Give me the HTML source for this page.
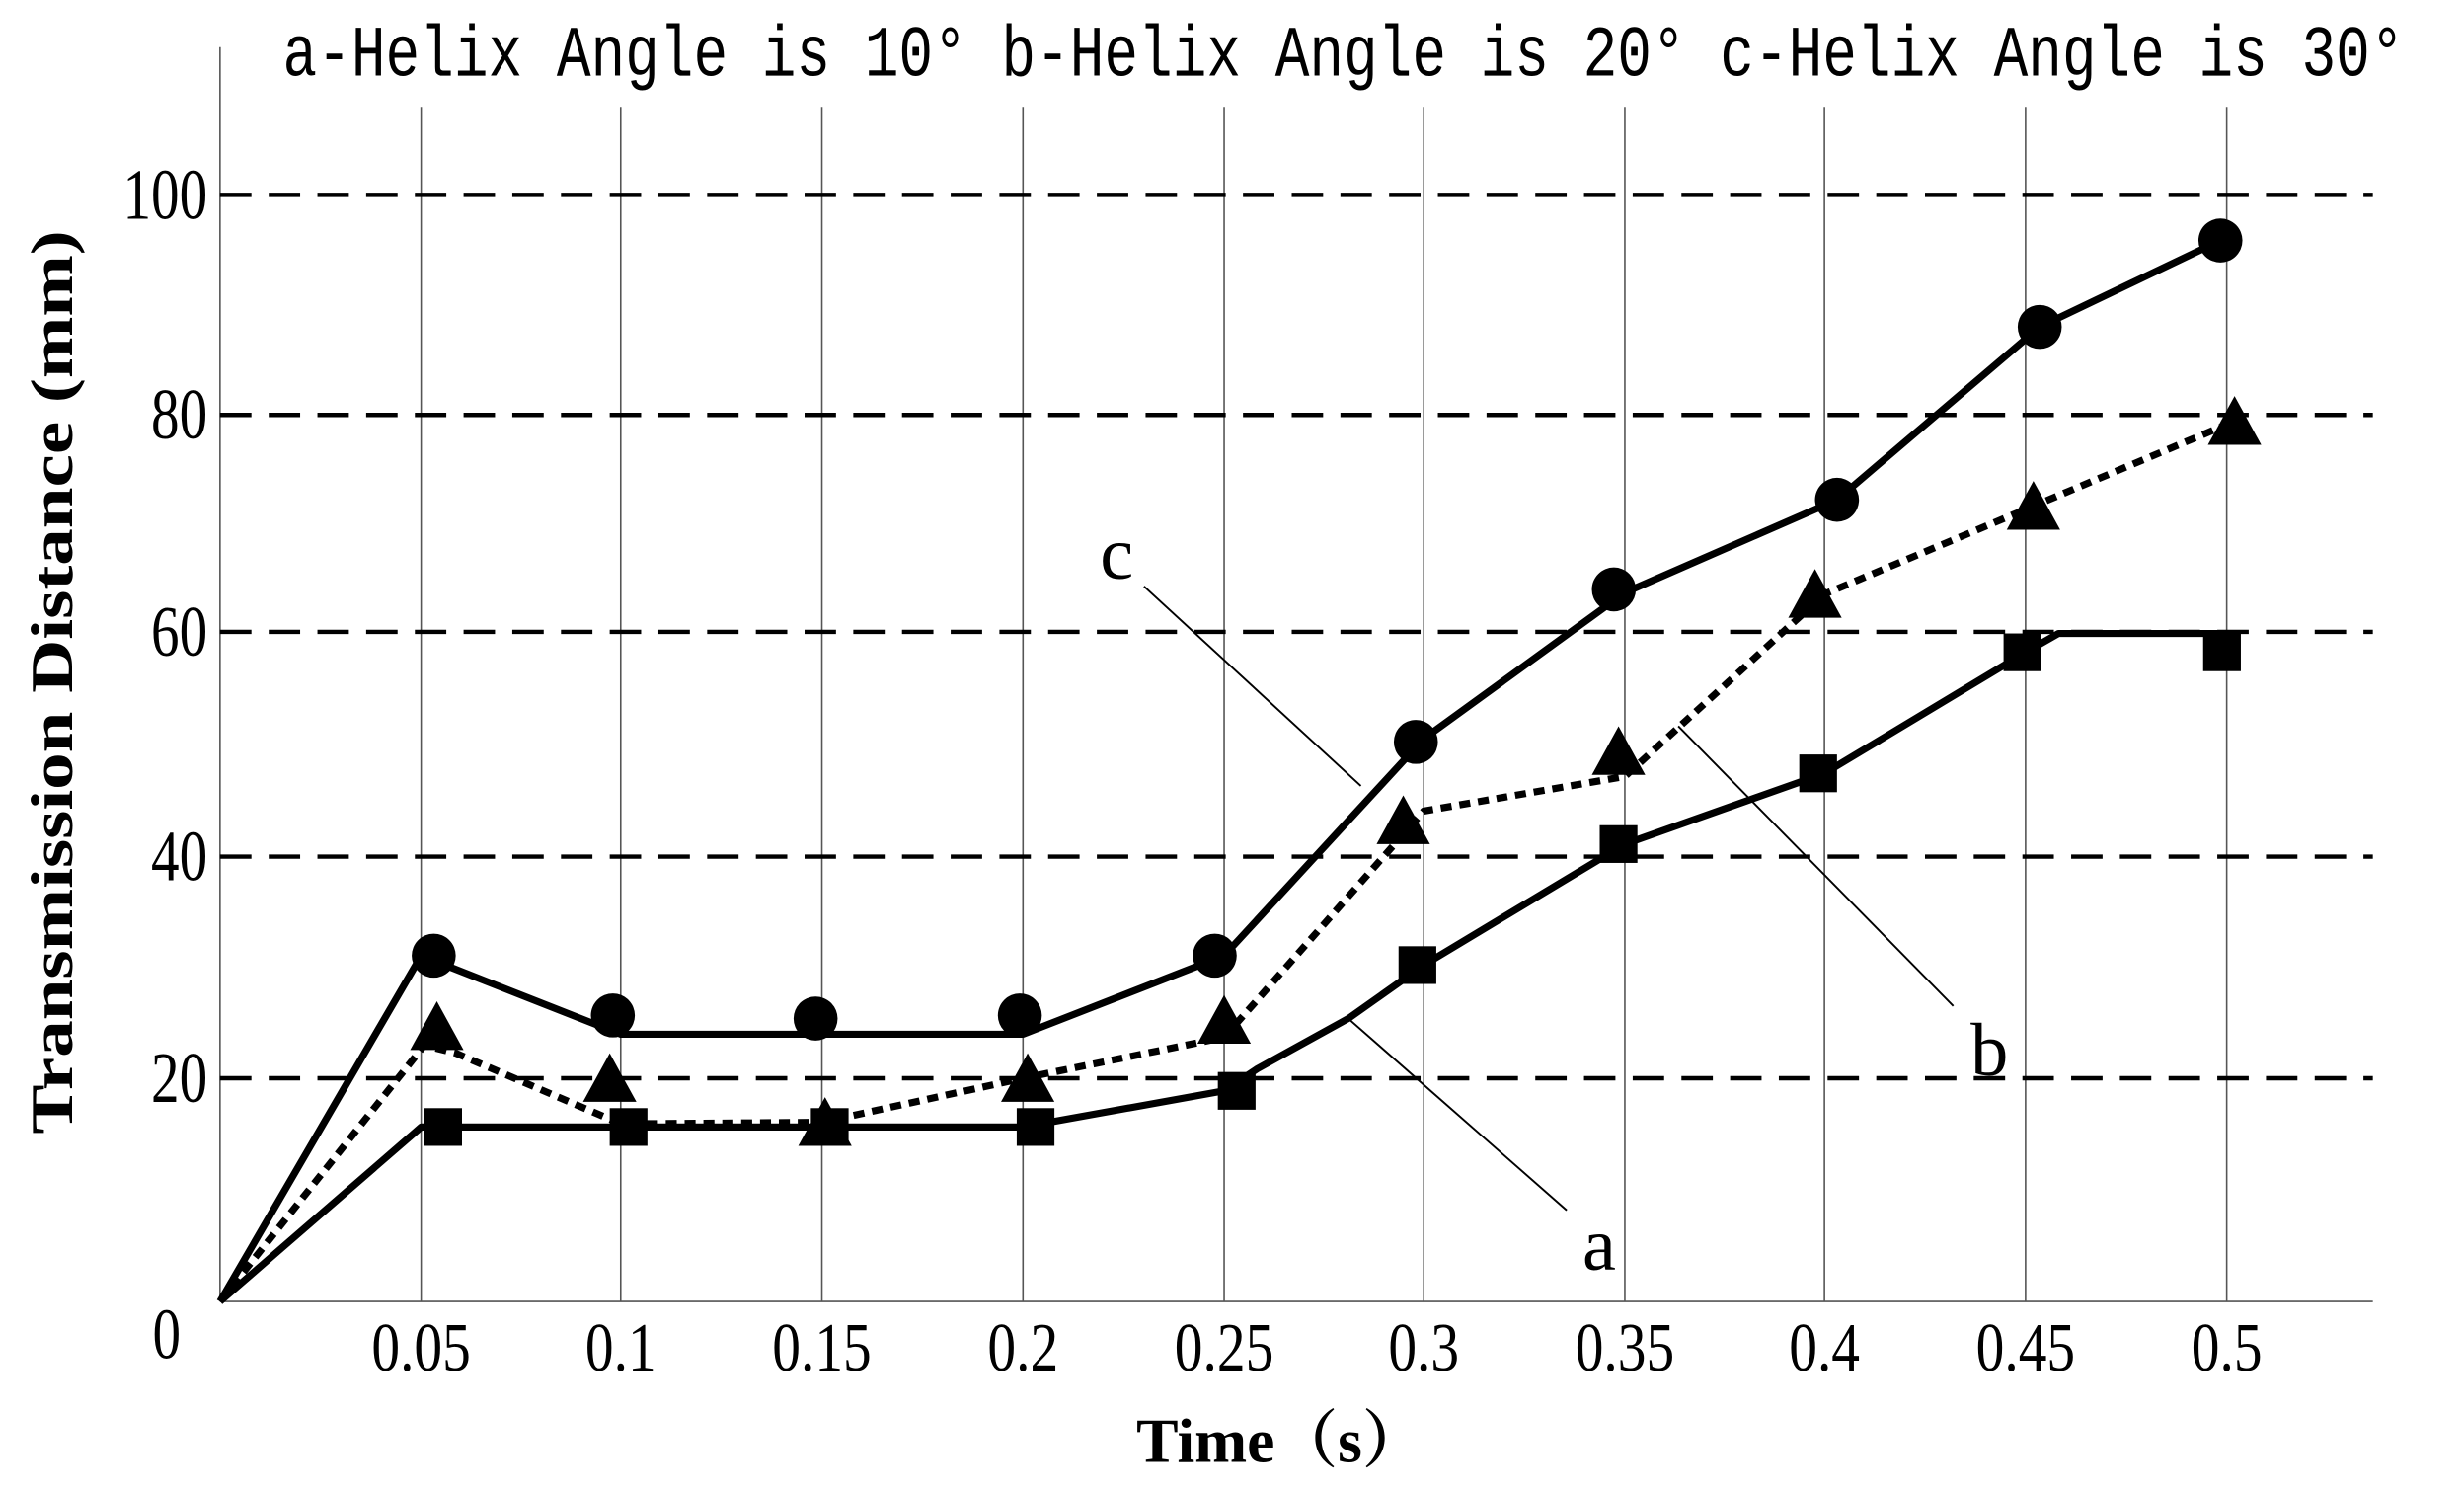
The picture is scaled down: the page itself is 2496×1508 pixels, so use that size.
<!DOCTYPE html>
<html><head><meta charset="utf-8"><style>html,body{margin:0;padding:0;background:#fff}svg{display:block}</style></head><body>
<svg width="2496" height="1508" viewBox="0 0 1568 947.3" preserveAspectRatio="none" xmlns="http://www.w3.org/2000/svg">
<rect width="1568" height="948" fill="#fff"/>
<g stroke="#555" stroke-width="1">
<line x1="140" y1="30" x2="140" y2="828"/>
<line x1="268" y1="68" x2="268" y2="828"/>
<line x1="395" y1="68" x2="395" y2="828"/>
<line x1="523" y1="68" x2="523" y2="828"/>
<line x1="651" y1="68" x2="651" y2="828"/>
<line x1="779" y1="68" x2="779" y2="828"/>
<line x1="906" y1="68" x2="906" y2="828"/>
<line x1="1034" y1="68" x2="1034" y2="828"/>
<line x1="1161" y1="68" x2="1161" y2="828"/>
<line x1="1289" y1="68" x2="1289" y2="828"/>
<line x1="1417" y1="68" x2="1417" y2="828"/>
<line x1="140" y1="828" x2="1510" y2="828"/>
</g>
<g stroke="#000" stroke-width="2.8" stroke-dasharray="20,11">
<line x1="140" y1="124" x2="1510" y2="124"/>
<line x1="140" y1="264" x2="1510" y2="264"/>
<line x1="140" y1="402" x2="1510" y2="402"/>
<line x1="140" y1="545" x2="1510" y2="545"/>
<line x1="140" y1="686" x2="1510" y2="686"/>
</g>
<text x="180" y="48" font-family="Liberation Mono, monospace" font-size="46" textLength="1350" lengthAdjust="spacingAndGlyphs">a-Helix Angle is 10°  b-Helix Angle is 20°  c-Helix Angle is 30°</text>
<g font-family="Liberation Serif, serif" font-size="46" text-anchor="end">
<text transform="translate(132,139) scale(0.78,1)">100</text>
<text transform="translate(132,279) scale(0.78,1)">80</text>
<text transform="translate(132,417) scale(0.78,1)">60</text>
<text transform="translate(132,560) scale(0.78,1)">40</text>
<text transform="translate(132,701) scale(0.78,1)">20</text>
<text transform="translate(115,864) scale(0.78,1)">0</text>
</g>
<g font-family="Liberation Serif, serif" font-size="44" text-anchor="middle">
<text transform="translate(268,872) scale(0.82,1)">0.05</text>
<text transform="translate(395,872) scale(0.82,1)">0.1</text>
<text transform="translate(523,872) scale(0.82,1)">0.15</text>
<text transform="translate(651,872) scale(0.82,1)">0.2</text>
<text transform="translate(779,872) scale(0.82,1)">0.25</text>
<text transform="translate(906,872) scale(0.82,1)">0.3</text>
<text transform="translate(1034,872) scale(0.82,1)">0.35</text>
<text transform="translate(1161,872) scale(0.82,1)">0.4</text>
<text transform="translate(1289,872) scale(0.82,1)">0.45</text>
<text transform="translate(1417,872) scale(0.82,1)">0.5</text>
</g>
<text x="815" y="930" font-family="Liberation Serif, 'Noto Serif CJK SC', serif" font-size="40" font-weight="bold" text-anchor="middle">Time（s）</text>
<text transform="translate(46,434) rotate(-90)" font-family="Liberation Serif, serif" font-size="38" font-weight="bold" text-anchor="middle" textLength="575" lengthAdjust="spacingAndGlyphs">Transmission Distance (mm)</text>
<g fill="none" stroke="#000" stroke-width="4.5" stroke-linejoin="round">
<polyline points="140,828 268,717 395,717 523,717 651,717 779,694 800,680 858,648 906,614 1034,537 1161,492 1289,415 1310,403 1417,403"/>
<polyline points="140,828 268,608 395,658 523,658 651,658 779,608 906,470 1034,377 1169,318 1298,208 1413,153"/>
<polyline points="140,828 270,665 290,670 395,715 523,714 651,686 779,660 906,516 1034,494 1161,378 1294,322 1422,268" stroke-dasharray="7,5"/>
</g>
<g fill="#000">
<rect x="270" y="705" width="24" height="24"/><rect x="388" y="705" width="24" height="24"/><rect x="516" y="705" width="24" height="24"/><rect x="647" y="705" width="24" height="24"/><rect x="775" y="682" width="24" height="24"/><rect x="890" y="602" width="24" height="24"/><rect x="1018" y="525" width="24" height="24"/><rect x="1145" y="480" width="24" height="24"/><rect x="1275" y="403" width="24" height="24"/><rect x="1402" y="403" width="24" height="24"/>
<circle cx="276" cy="608" r="14"/><circle cx="390" cy="646" r="14"/><circle cx="519" cy="648" r="14"/><circle cx="649" cy="646" r="14"/><circle cx="773" cy="608" r="14"/><circle cx="901" cy="472" r="14"/><circle cx="1027" cy="375" r="14"/><circle cx="1169" cy="318" r="14"/><circle cx="1298" cy="208" r="14"/><circle cx="1413" cy="153" r="14"/>
<polygon points="278,637 261,668 295,668"/><polygon points="388,670 371,701 405,701"/><polygon points="525,698 508,729 542,729"/><polygon points="654,670 637,701 671,701"/><polygon points="779,633 762,664 796,664"/><polygon points="893,506 876,537 910,537"/><polygon points="1030,462 1013,493 1047,493"/><polygon points="1155,362 1138,393 1172,393"/><polygon points="1294,306 1277,337 1311,337"/><polygon points="1422,252 1405,283 1439,283"/>
</g>
<g stroke="#000" stroke-width="1.2">
<line x1="728" y1="373" x2="866" y2="500"/>
<line x1="1243" y1="640" x2="1068" y2="462"/>
<line x1="997" y1="770" x2="858" y2="648"/>
</g>
<g font-family="Liberation Serif, serif" font-size="48">
<text x="700" y="368">c</text><text x="1254" y="684">b</text><text x="1007" y="808">a</text>
</g>
</svg>
</body></html>
